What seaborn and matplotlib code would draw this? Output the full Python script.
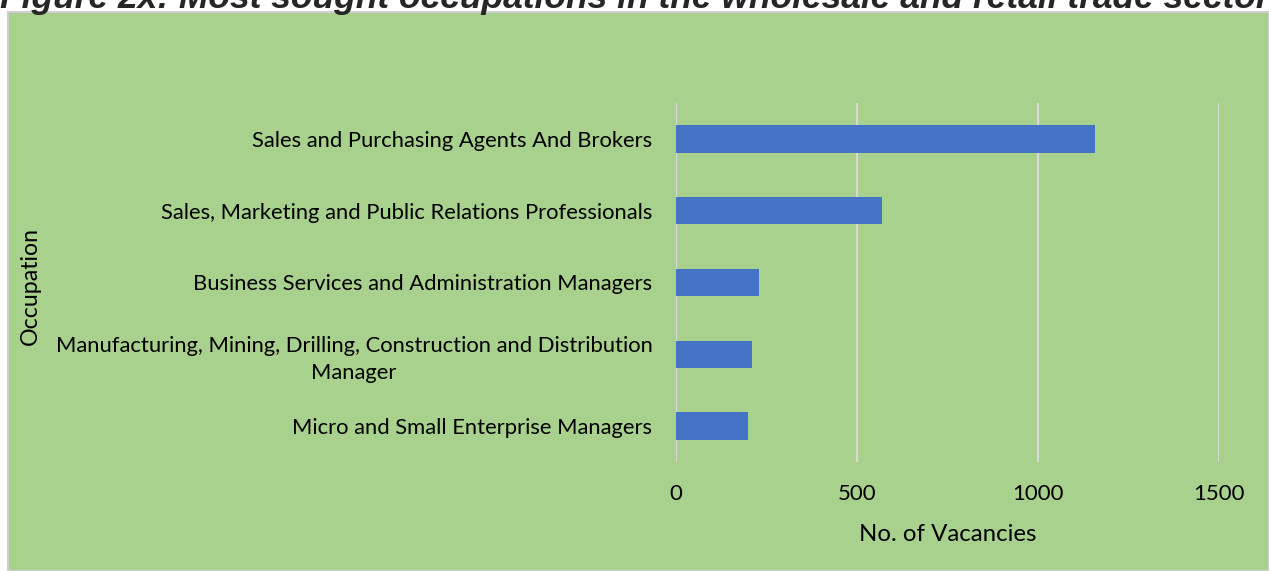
import matplotlib
matplotlib.use("Agg")
import matplotlib.pyplot as plt
import seaborn as sns
import pandas as pd
from matplotlib.patches import Rectangle

# data
occupations = [
    "Sales and Purchasing Agents And Brokers",
    "Sales, Marketing and Public Relations Professionals",
    "Business Services and Administration Managers",
    "Manufacturing, Mining, Drilling, Construction and Distribution\nManager",
    "Micro and Small Enterprise Managers",
]
vacancies = [1157, 569, 229, 210, 199]
x_ticks = [0, 500, 1000, 1500]

df = pd.DataFrame({"occupation": occupations, "vacancies": vacancies})

sns.set_style("white")
plt.rcParams["font.family"] = ["Lato", "DejaVu Sans"]

green = "#A9D18E"
fig = plt.figure(figsize=(12.69, 5.71), dpi=100)
fig.patch.set_facecolor("white")

# background axes holding the green chart area with thin grey frame
bg = fig.add_axes([0, 0, 1, 1], zorder=-10)
bg.set_xlim(0, 1269)
bg.set_ylim(571, 0)
bg.axis("off")
bg.add_patch(Rectangle((8, 12), 1269 - 8, 571 - 12, facecolor=green,
                       edgecolor="#D0D0D0", linewidth=1.5))

# title is cut off at the top edge, as in the original
fig.text(0.0, 1 - 8 / 571, "Figure 2x: Most sought occupations in the wholesale and retail trade sector",
         ha="left", va="baseline", fontsize=25.5, fontweight="bold", fontstyle="italic",
         family=["Liberation Sans", "DejaVu Sans"])

ax = fig.add_axes([676 / 1269, 1 - 462 / 571, (1219 - 676) / 1269, (462 - 103) / 571])
ax.patch.set_alpha(0)

sns.barplot(data=df, x="vacancies", y="occupation", color="#4472C4",
            width=0.38, saturation=1, linewidth=0, edgecolor="none", ax=ax, zorder=3)

ax.set_xlim(0, 1500)
ax.set_xticks(x_ticks)
ax.grid(axis="x", color="#D9D9D9", linewidth=1.5, zorder=0)
ax.set_axisbelow(True)
for s in ax.spines.values():
    s.set_visible(False)

ax.tick_params(axis="y", length=0, labelsize=15.8, colors="black", pad=17)
ax.tick_params(axis="x", length=0, labelsize=16, colors="black", pad=16)
for lbl in ax.get_yticklabels():
    lbl.set_multialignment("center")
    lbl.set_linespacing(1.4)

ax.set_xlabel("No. of Vacancies", fontsize=17.3, labelpad=14.5, color="black")
ax.set_ylabel("")
fig.text(30 / 1269, 1 - 286 / 571, "Occupation", rotation=90, ha="center", va="center",
         fontsize=16.7, color="black")

fig.savefig("out.png", dpi=100)
